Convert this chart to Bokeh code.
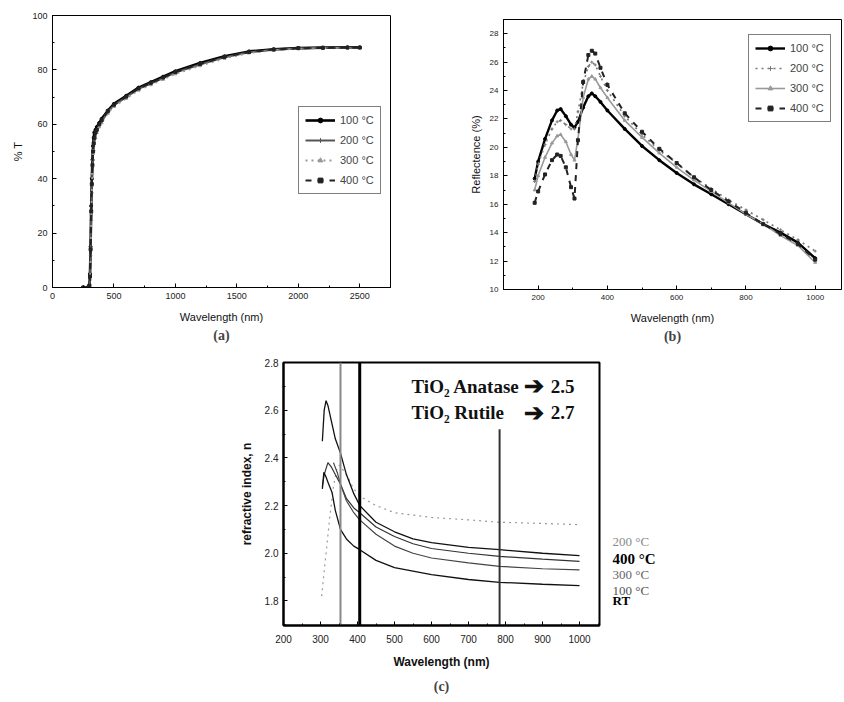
from bokeh.plotting import figure
from bokeh.layouts import column, row, Spacer
from bokeh.models import (Legend, LegendItem, Label, Title, FixedTicker, PrintfTickFormatter,
                          ColumnDataSource)
from bokeh.core.properties import value
from bokeh.embed import file_html
from bokeh.resources import INLINE

# ---------------- data (a): transmission ----------------
a_x = [250, 290, 300, 305, 310, 315, 320, 325, 330, 335, 340, 350, 360, 380, 400, 450, 500, 600,
       700, 800, 900, 1000, 1200, 1400, 1600, 1800, 2000, 2200, 2400, 2500]
a_100 = [0, 0, 1, 5, 15, 30, 40, 47, 52, 55, 57, 58, 59, 60.5, 62, 65, 67.5, 70.5,
         73.5, 75.5, 77.5, 79.5, 82.5, 85, 86.8, 87.6, 88, 88.2, 88.3, 88.3]
a_200 = [0, 0, 0.5, 4, 13, 27, 37, 44, 49, 52, 54, 56, 57.5, 59.5, 61, 64.5, 67, 70,
         73, 75, 77, 79, 82, 84.6, 86.5, 87.4, 87.9, 88.1, 88.2, 88.2]
a_300 = [0, 0, 0.5, 3, 12, 25, 35, 42, 47, 50.5, 53, 55, 57, 59, 60.5, 64, 66.5, 69.5,
         72.5, 74.5, 76.5, 78.5, 81.5, 84.2, 86.2, 87.2, 87.8, 88, 88.1, 88.1]
a_400 = [0, 0, 0.5, 4, 14, 28, 38, 45, 50, 53, 55, 57, 58, 60, 61.5, 64.8, 67.2, 70.2,
         73.2, 75.2, 77.2, 79.2, 82.2, 84.8, 86.6, 87.5, 88, 88.1, 88.2, 88.2]
a_xticks = [0, 500, 1000, 1500, 2000, 2500]
a_yticks = [0, 20, 40, 60, 80, 100]

# ---------------- data (b): reflectance ----------------
b_x = [190, 200, 220, 240, 255, 265, 280, 295, 305, 315, 330, 345, 355, 365, 380, 400, 450, 500,
       550, 600, 650, 700, 750, 800, 850, 900, 950, 1000]
b_100 = [17.8, 19.0, 20.6, 21.9, 22.6, 22.7, 22.2, 21.6, 21.4, 21.8, 22.8, 23.6, 23.8, 23.6, 23.2,
         22.6, 21.3, 20.1, 19.1, 18.2, 17.4, 16.7, 16.0, 15.3, 14.6, 14.0, 13.3, 12.2]
b_200 = [17.6, 18.8, 20.2, 21.3, 21.8, 21.9, 21.6, 21.3, 21.3, 22.5, 24.5, 25.7, 26.0, 25.8, 25.0,
         24.0, 22.2, 20.9, 19.8, 18.9, 17.9, 17.1, 16.3, 15.6, 14.9, 14.2, 13.5, 12.7]
b_300 = [17.0, 18.0, 19.3, 20.3, 20.8, 20.9, 20.4, 19.5, 19.1, 20.6, 23.5, 24.8, 25.0, 24.8, 24.2,
         23.5, 21.9, 20.7, 19.6, 18.6, 17.7, 16.9, 16.1, 15.3, 14.6, 13.8, 13.1, 11.9]
b_400 = [16.1, 16.9, 18.1, 19.1, 19.5, 19.4, 18.6, 17.2, 16.4, 20.5, 24.6, 26.5, 26.8, 26.6, 25.6,
         24.4, 22.4, 21.1, 19.9, 18.9, 17.9, 17.0, 16.2, 15.4, 14.6, 13.9, 13.2, 12.1]
b_xticks = [200, 400, 600, 800, 1000]
b_yticks = [10, 12, 14, 16, 18, 20, 22, 24, 26, 28]

# ---------------- data (c): refractive index ----------------
c_x_200 = [303, 315, 325, 335, 345, 352, 370, 390, 406, 450, 500, 600, 700, 784, 900, 1000]
c_y_200 = [1.82, 2.0, 2.15, 2.28, 2.36, 2.37, 2.33, 2.27, 2.24, 2.20, 2.17, 2.15, 2.14, 2.13, 2.125, 2.12]
c_x_400 = [305, 310, 315, 320, 330, 340, 354, 370, 390, 406, 450, 500, 550, 600, 700, 784, 900, 1000]
c_y_400 = [2.47, 2.60, 2.64, 2.62, 2.55, 2.48, 2.42, 2.33, 2.25, 2.20, 2.13, 2.09, 2.06, 2.045,
           2.025, 2.015, 2.0, 1.99]
c_x_300 = [305, 310, 320, 330, 340, 354, 370, 390, 406, 450, 500, 550, 600, 700, 784, 900, 1000]
c_y_300 = [2.28, 2.33, 2.38, 2.36, 2.33, 2.29, 2.23, 2.19, 2.17, 2.11, 2.07, 2.04, 2.02, 2.0,
           1.987, 1.975, 1.966]
c_x_100 = [335, 345, 354, 370, 390, 406, 450, 500, 550, 600, 700, 784, 900, 1000]
c_y_100 = [2.38, 2.34, 2.29, 2.22, 2.17, 2.14, 2.08, 2.03, 2.0, 1.98, 1.96, 1.945, 1.935, 1.93]
c_x_rt = [305, 309, 315, 322, 331, 340, 354, 370, 390, 406, 450, 500, 600, 700, 784, 900, 1000]
c_y_rt = [2.27, 2.34, 2.32, 2.29, 2.256, 2.18, 2.10, 2.06, 2.03, 2.015, 1.97, 1.94, 1.91, 1.89,
          1.878, 1.87, 1.864]
c_mark_x = [354, 406, 784]
c_mark_top = [2.8, 2.8, 2.52]
c_xticks = [200, 300, 400, 500, 600, 700, 800, 900, 1000]
c_yticks = [1.8, 2.0, 2.2, 2.4, 2.6, 2.8]
c_labels = ["200 °C", "400 °C", "300 °C", "100 °C", "RT"]
c_label_y = [2.05, 1.976, 1.909, 1.845, 1.80]

SANS = "Liberation Sans"
SERIF = "Liberation Serif"


def no_frame_align(p):
    if "frame_align" in p.properties():
        p.frame_align = False


def style_axes(p, tick_size="9px", label_size="11px", label_bold=False):
    p.grid.visible = False
    p.outline_line_color = "black"
    p.axis.axis_line_color = "black"
    p.axis.major_tick_in = 4
    p.axis.major_tick_out = 0
    p.axis.minor_tick_in = 2
    p.axis.minor_tick_out = 0
    p.axis.major_label_text_font = SANS
    p.axis.major_label_text_font_size = tick_size
    p.axis.major_label_text_color = "#222"
    p.axis.axis_label_text_font = SANS
    p.axis.axis_label_text_font_size = label_size
    p.axis.axis_label_text_font_style = "bold" if label_bold else "normal"
    p.axis.axis_label_text_color = "#111"


def panel_title(p, text, standoff=0):
    p.add_layout(Title(text=text, align="center", text_font=SERIF, text_font_size="14px",
                       text_font_style="bold", standoff=standoff), "below")


# ================= panel (a) =================
pa = figure(width=420, height=344, x_range=(0, 2750), y_range=(0, 100), title=None,
            output_backend="svg", toolbar_location=None,
            min_border_left=52, min_border_right=30, min_border_top=15, min_border_bottom=57)
no_frame_align(pa)
style_axes(pa)
pa.xaxis.ticker = FixedTicker(ticks=a_xticks, minor_ticks=list(range(0, 2751, 250)))
pa.yaxis.ticker = FixedTicker(ticks=a_yticks, minor_ticks=list(range(0, 101, 10)))
pa.xaxis.axis_label = "Wavelength (nm)"
pa.yaxis.axis_label = "% T"
pa.xaxis.axis_label_standoff = 9
panel_title(pa, "(a)")

a_series = [("100 °C", a_100, "black", 2.6, "solid", "circle"),
            ("200 °C", a_200, "#555555", 2.0, "solid", "cross"),
            ("300 °C", a_300, "#999999", 1.8, "dotted", "triangle"),
            ("400 °C", a_400, "#222222", 2.2, "dashed", "square")]
items = []
for lab, ys, col, w, dash, mk in a_series:
    l = pa.line(a_x, ys, line_color=col, line_width=w, line_dash=dash)
    s = pa.scatter(a_x, ys, marker=mk, size=3, line_color=col, fill_color=col)
    items.append(LegendItem(label=lab, renderers=[l, s]))
leg_a = Legend(items=items, location=(246, 93), border_line_color="black", border_line_width=1,
               label_text_font=SANS, label_text_font_size="11px", glyph_width=30, glyph_height=12,
               label_height=14, spacing=6, padding=6, margin=0, background_fill_alpha=1)
pa.add_layout(leg_a)

# ================= panel (b) =================
pb = figure(width=422, height=344, x_range=(100, 1076), y_range=(10, 29), title=None,
            output_backend="svg", toolbar_location=None,
            min_border_left=83, min_border_right=1, min_border_top=19, min_border_bottom=55)
no_frame_align(pb)
style_axes(pb, tick_size="8px", label_size="11px")
pb.xaxis.ticker = FixedTicker(ticks=b_xticks, minor_ticks=list(range(100, 1051, 100)))
pb.yaxis.ticker = FixedTicker(ticks=b_yticks, minor_ticks=list(range(10, 30, 1)))
pb.xaxis.axis_label = "Wavelength (nm)"
pb.yaxis.axis_label = "Reflectence (%)"
pb.xaxis.axis_label_standoff = 9
panel_title(pb, "(b)")

b_series = [("100 °C", b_100, "black", 2.4, "solid", "circle"),
            ("200 °C", b_200, "#777777", 1.6, "dotted", "cross"),
            ("300 °C", b_300, "#999999", 1.6, "solid", "triangle"),
            ("400 °C", b_400, "#222222", 2.0, "dashed", "square")]
items = []
for lab, ys, col, w, dash, mk in b_series:
    l = pb.line(b_x, ys, line_color=col, line_width=w, line_dash=dash)
    s = pb.scatter(b_x, ys, marker=mk, size=3, line_color=col, fill_color=col)
    items.append(LegendItem(label=lab, renderers=[l, s]))
leg_b = Legend(items=items, location=(245, 167), border_line_color="black", border_line_width=1.5,
               label_text_font=SANS, label_text_font_size="11px", glyph_width=30, glyph_height=12,
               label_height=14, spacing=6, padding=6, margin=0, background_fill_alpha=1)
pb.add_layout(leg_b)

# ================= panel (c) =================
pc = figure(width=384, height=356, x_range=(200, 1054), y_range=(1.697, 2.8), title=None,
            output_backend="svg", toolbar_location=None,
            min_border_left=60, min_border_right=8, min_border_top=18, min_border_bottom=75)
style_axes(pc, tick_size="10px", label_size="12px", label_bold=True)
pc.outline_line_width = 2
pc.axis.axis_line_width = 2
pc.xaxis.ticker = FixedTicker(ticks=c_xticks, minor_ticks=list(range(200, 1051, 50)))
pc.yaxis.ticker = FixedTicker(ticks=c_yticks, minor_ticks=[1.7, 1.9, 2.1, 2.3, 2.5, 2.7])
pc.yaxis.formatter = PrintfTickFormatter(format="%.1f")
pc.xaxis.axis_label = "Wavelength (nm)"
pc.yaxis.axis_label = "refractive index, n"
pc.xaxis.major_label_standoff = 9
pc.xaxis.axis_label_standoff = 9
pc.yaxis.axis_label_standoff = 8
panel_title(pc, "(c)", standoff=10)

pc.line(c_x_200, c_y_200, line_color="#999999", line_width=1.2, line_dash="dotted")
pc.line(c_x_400, c_y_400, line_color="#111111", line_width=1.3)
pc.line(c_x_300, c_y_300, line_color="#333333", line_width=1.2)
pc.line(c_x_100, c_y_100, line_color="#444444", line_width=1.2)
pc.line(c_x_rt, c_y_rt, line_color="#111111", line_width=1.3)

pc.segment(x0=c_mark_x, y0=[1.6] * 3, x1=c_mark_x, y1=c_mark_top,
           line_color=["#888888", "black", "#333333"], line_width=[2, 3, 2])

for txt, x, y, sz in [("TiO₂ Anatase", 546, 2.70, "19px"), ("➔", 849, 2.70, "24px"),
                      ("2.5", 922, 2.70, "19px"),
                      ("TiO₂ Rutile", 546, 2.59, "19px"), ("➔", 849, 2.59, "24px"),
                      ("2.7", 922, 2.59, "19px")]:
    pc.add_layout(Label(x=x, y=y, text=txt, text_font=SERIF, text_font_style="bold",
                        text_font_size=sz, text_baseline="middle", text_color="#111"))

# side labels of panel (c), in a narrow companion figure sharing the y range
pl = figure(width=60, height=356, x_range=(0, 60), y_range=pc.y_range, title=None,
            output_backend="svg", toolbar_location=None,
            min_border_left=0, min_border_right=0, min_border_top=18, min_border_bottom=75)
pl.axis.visible = False
pl.grid.visible = False
pl.outline_line_color = None
lab_src = ColumnDataSource(dict(
    x=[5] * len(c_labels), y=c_label_y, text=c_labels,
    color=["#8a8a8a", "black", "#666666", "#555555", "black"],
    style=["normal", "bold", "normal", "normal", "bold"],
    size=["13px", "15px", "13px", "13px", "13px"]))
pl.text(x="x", y="y", text="text", source=lab_src, text_font=value(SERIF),
        text_color="color", text_font_style="style", text_font_size="size",
        text_baseline="middle")

layout = column(row(pa, pb), row(Spacer(width=223, height=10), pc, pl))

open("out.html", "w").write(file_html(layout, INLINE))
